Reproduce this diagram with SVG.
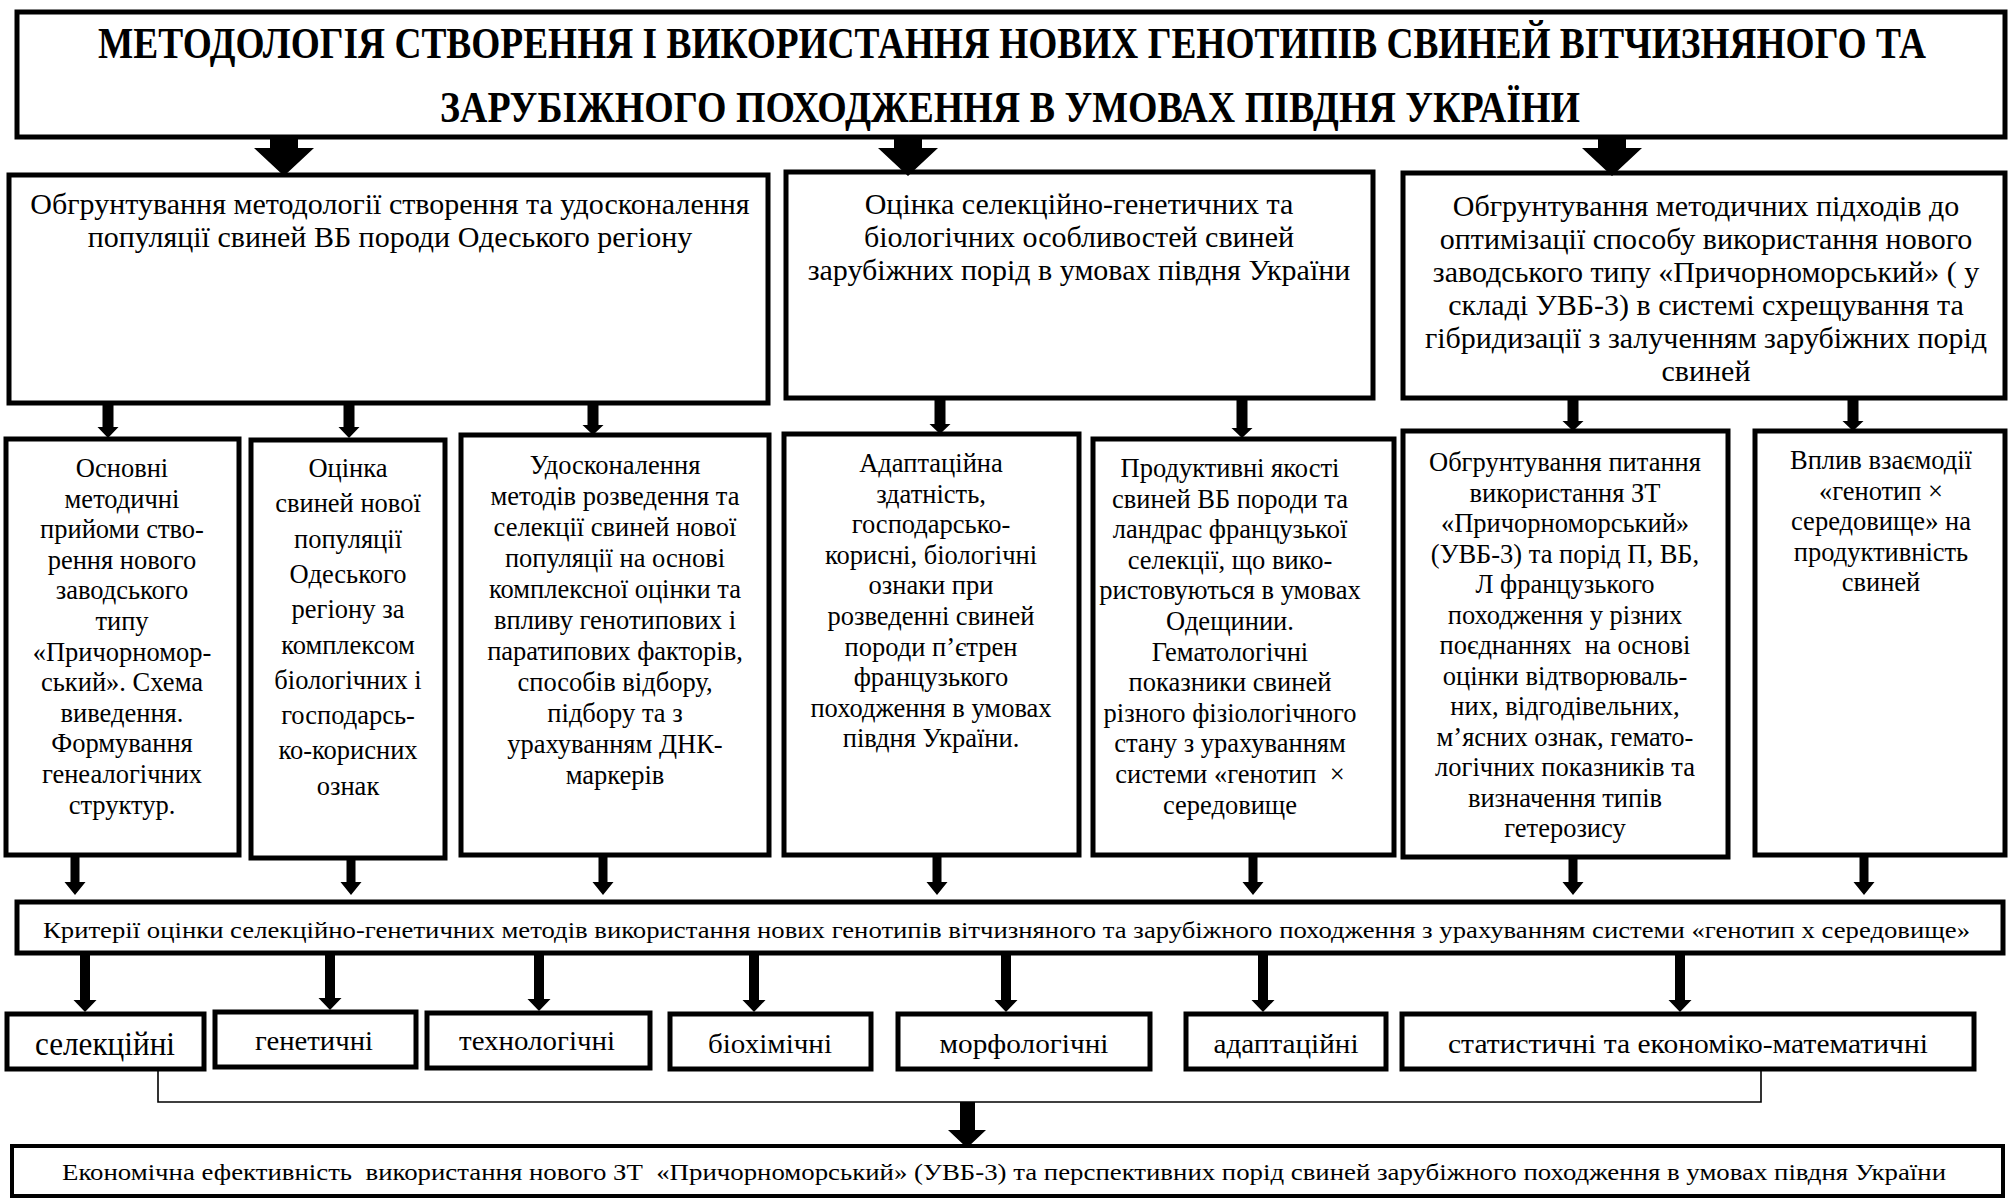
<svg xmlns="http://www.w3.org/2000/svg" width="2011" height="1199" viewBox="0 0 2011 1199">
<style>
.bg{fill:#fff}
.box{fill:#fff;stroke:#000;stroke-width:5}
.thin{stroke-width:4}
.t{font-family:"Liberation Serif","Times New Roman",serif;fill:#000;text-anchor:middle}
.ttl{font-size:37px;font-weight:bold}
.l2{font-size:30px}
.l3{font-size:26.5px}
.cat{font-size:27px}
.arr{fill:#000}
.ln{fill:none;stroke:#000;stroke-width:1.6}
</style>
<rect class="bg" x="0" y="0" width="2011" height="1199"/>

<g id="title">
<rect class="box" x="17" y="12" width="1988" height="125"/>
<text class="t ttl" transform="translate(1012 58) scale(1 1.2)" x="0" y="0" textLength="1828" lengthAdjust="spacingAndGlyphs">МЕТОДОЛОГІЯ СТВОРЕННЯ І ВИКОРИСТАННЯ НОВИХ ГЕНОТИПІВ СВИНЕЙ ВІТЧИЗНЯНОГО ТА</text>
<text class="t ttl" transform="translate(1010 122) scale(1 1.2)" x="0" y="0" textLength="1140" lengthAdjust="spacingAndGlyphs">ЗАРУБІЖНОГО ПОХОДЖЕННЯ В УМОВАХ ПІВДНЯ УКРАЇНИ</text>
</g>

<g id="box-a">
<rect class="box" x="9" y="175" width="759" height="228"/>
<text class="t l2"><tspan x="390" y="214">Обгрунтування методології створення та удосконалення</tspan><tspan x="390" y="247">популяції свиней ВБ породи Одеського регіону</tspan></text>
</g>

<g id="box-b">
<rect class="box" x="786" y="172" width="587" height="226"/>
<text class="t l2"><tspan x="1079" y="214">Оцінка селекційно-генетичних та</tspan><tspan x="1079" y="247">біологічних особливостей свиней</tspan><tspan x="1079" y="280">зарубіжних порід в умовах півдня України</tspan></text>
</g>

<g id="box-c">
<rect class="box" x="1403" y="173" width="602" height="225"/>
<text class="t l2"><tspan x="1706" y="216">Обгрунтування методичних підходів до</tspan><tspan x="1706" y="249">оптимізації способу використання нового</tspan><tspan x="1706" y="282">заводського типу «Причорноморський» ( у</tspan><tspan x="1706" y="315">складі УВБ-3) в системі схрещування та</tspan><tspan x="1706" y="348">гібридизації з залученням зарубіжних порід</tspan><tspan x="1706" y="381">свиней</tspan></text>
</g>

<g id="b1">
<rect class="box" x="6" y="439" width="233" height="416"/>
<text class="t l3"><tspan x="122" y="477">Основні</tspan><tspan x="122" y="507.6">методичні</tspan><tspan x="122" y="538.2">прийоми ство-</tspan><tspan x="122" y="568.8">рення нового</tspan><tspan x="122" y="599.4">заводського</tspan><tspan x="122" y="630">типу</tspan><tspan x="122" y="660.6">«Причорномор-</tspan><tspan x="122" y="691.2">ський». Схема</tspan><tspan x="122" y="721.8">виведення.</tspan><tspan x="122" y="752.4">Формування</tspan><tspan x="122" y="783">генеалогічних</tspan><tspan x="122" y="813.6">структур.</tspan></text>
</g>

<g id="b2">
<rect class="box" x="251" y="440" width="194" height="418"/>
<text class="t l3"><tspan x="348" y="477">Оцінка</tspan><tspan x="348" y="512.3">свиней нової</tspan><tspan x="348" y="547.6">популяції</tspan><tspan x="348" y="582.9">Одеського</tspan><tspan x="348" y="618.2">регіону за</tspan><tspan x="348" y="653.5">комплексом</tspan><tspan x="348" y="688.8">біологічних і</tspan><tspan x="348" y="724.1">господарсь-</tspan><tspan x="348" y="759.4">ко-корисних</tspan><tspan x="348" y="794.7">ознак</tspan></text>
</g>

<g id="b3">
<rect class="box" x="461" y="435" width="308" height="420"/>
<text class="t l3"><tspan x="615" y="474">Удосконалення</tspan><tspan x="615" y="505">методів розведення та</tspan><tspan x="615" y="536">селекції свиней нової</tspan><tspan x="615" y="567">популяції на основі</tspan><tspan x="615" y="598">комплексної оцінки та</tspan><tspan x="615" y="629">впливу генотипових і</tspan><tspan x="615" y="660">паратипових факторів,</tspan><tspan x="615" y="691">способів відбору,</tspan><tspan x="615" y="722">підбору та з</tspan><tspan x="615" y="753">урахуванням ДНК-</tspan><tspan x="615" y="784">маркерів</tspan></text>
</g>

<g id="b4">
<rect class="box" x="784" y="434" width="295" height="421"/>
<text class="t l3"><tspan x="931" y="472">Адаптаційна</tspan><tspan x="931" y="502.6">здатність,</tspan><tspan x="931" y="533.2">господарсько-</tspan><tspan x="931" y="563.8">корисні, біологічні</tspan><tspan x="931" y="594.4">ознаки при</tspan><tspan x="931" y="625">розведенні свиней</tspan><tspan x="931" y="655.6">породи п’єтрен</tspan><tspan x="931" y="686.2">французького</tspan><tspan x="931" y="716.8">походження в умовах</tspan><tspan x="931" y="747.4">півдня України.</tspan></text>
</g>

<g id="b5">
<rect class="box" x="1093" y="439" width="301" height="416"/>
<text class="t l3" xml:space="preserve"><tspan x="1230" y="477">Продуктивні якості</tspan><tspan x="1230" y="507.6">свиней ВБ породи та</tspan><tspan x="1230" y="538.2">ландрас французької</tspan><tspan x="1230" y="568.8">селекції, що вико-</tspan><tspan x="1230" y="599.4">ристовуються в умовах</tspan><tspan x="1230" y="630">Одещинии.</tspan><tspan x="1230" y="660.6">Гематологічні</tspan><tspan x="1230" y="691.2">показники свиней</tspan><tspan x="1230" y="721.8">різного фізіологічного</tspan><tspan x="1230" y="752.4">стану з урахуванням</tspan><tspan x="1230" y="783">системи «генотип  ×</tspan><tspan x="1230" y="813.6">середовище</tspan></text>
</g>

<g id="b6">
<rect class="box" x="1403" y="431" width="325" height="426"/>
<text class="t l3"><tspan x="1565" y="471">Обгрунтування питання</tspan><tspan x="1565" y="501.5">використання ЗТ</tspan><tspan x="1565" y="532">«Причорноморський»</tspan><tspan x="1565" y="562.5">(УВБ-3) та порід П, ВБ,</tspan><tspan x="1565" y="593">Л французького</tspan><tspan x="1565" y="623.5">походження у різних</tspan><tspan x="1565" y="654" xml:space="preserve">поєднаннях  на основі</tspan><tspan x="1565" y="684.5">оцінки відтворюваль-</tspan><tspan x="1565" y="715">них, відгодівельних,</tspan><tspan x="1565" y="745.5">м’ясних ознак, гемато-</tspan><tspan x="1565" y="776">логічних показників та</tspan><tspan x="1565" y="806.5">визначення типів</tspan><tspan x="1565" y="837">гетерозису</tspan></text>
</g>

<g id="b7">
<rect class="box" x="1755" y="431" width="250" height="424"/>
<text class="t l3"><tspan x="1881" y="469">Вплив взаємодії</tspan><tspan x="1881" y="499.5">«генотип ×</tspan><tspan x="1881" y="530">середовище» на</tspan><tspan x="1881" y="560.5">продуктивність</tspan><tspan x="1881" y="591">свиней</tspan></text>
</g>

<g id="criteria">
<rect class="box" x="17" y="902" width="1986" height="51"/>
<text class="t" style="font-size:24px;text-anchor:start" x="43" y="938" textLength="1927" lengthAdjust="spacingAndGlyphs">Критерії оцінки селекційно-генетичних методів використання нових генотипів вітчизняного та зарубіжного походження з урахуванням системи «генотип х середовище»</text>
</g>

<g id="c1">
<rect class="box" x="7" y="1014" width="197" height="55"/>
<text class="t" style="font-size:33px" x="105" y="1055" textLength="140" lengthAdjust="spacingAndGlyphs">селекційні</text>
</g>
<g id="c2">
<rect class="box" x="215" y="1012" width="201" height="55"/>
<text class="t cat" x="314" y="1050" textLength="118" lengthAdjust="spacingAndGlyphs">генетичні</text>
</g>
<g id="c3">
<rect class="box" x="427" y="1013" width="223" height="55"/>
<text class="t cat" x="537" y="1050" textLength="156" lengthAdjust="spacingAndGlyphs">технологічні</text>
</g>
<g id="c4">
<rect class="box" x="670" y="1014" width="201" height="55"/>
<text class="t cat" x="770" y="1053" textLength="124" lengthAdjust="spacingAndGlyphs">біохімічні</text>
</g>
<g id="c5">
<rect class="box" x="898" y="1014" width="252" height="55"/>
<text class="t cat" x="1024" y="1053" textLength="169" lengthAdjust="spacingAndGlyphs">морфологічні</text>
</g>
<g id="c6">
<rect class="box" x="1186" y="1014" width="200" height="55"/>
<text class="t cat" x="1286" y="1053" textLength="145" lengthAdjust="spacingAndGlyphs">адаптаційні</text>
</g>
<g id="c7">
<rect class="box" x="1402" y="1014" width="572" height="55"/>
<text class="t cat" x="1688" y="1053" textLength="480" lengthAdjust="spacingAndGlyphs">статистичні та економіко-математичні</text>
</g>

<g id="bottom">
<rect class="box thin" x="12" y="1146" width="1991" height="50"/>
<text class="t" style="font-size:23px;text-anchor:start" x="62" y="1180" textLength="1884" lengthAdjust="spacingAndGlyphs" xml:space="preserve">Економічна ефективність  використання нового ЗТ  «Причорноморський» (УВБ-3) та перспективних порід свиней зарубіжного походження в умовах півдня України</text>
</g>

<g id="connectors">
<path class="arr" d="M270 137H298V148H314L284 176L254 148H270Z"/>
<path class="arr" d="M894 137H922V148H938L908 176L878 148H894Z"/>
<path class="arr" d="M1598 137H1626V148H1642L1612 176L1582 148H1598Z"/>
<path class="arr" d="M102.5 402H113.5V427H118.5L108 438L97.5 427H102.5Z"/>
<path class="arr" d="M343.5 402H354.5V427H359.5L349 438L338.5 427H343.5Z"/>
<path class="arr" d="M587.5 402H598.5V425H603.5L593 435L582.5 425H587.5Z"/>
<path class="arr" d="M934.5 398H945.5V424H950.5L940 434L929.5 424H934.5Z"/>
<path class="arr" d="M1236.5 398H1247.5V428H1252.5L1242 438L1231.5 428H1236.5Z"/>
<path class="arr" d="M1567.5 398H1578.5V421H1583.5L1573 431L1562.5 421H1567.5Z"/>
<path class="arr" d="M1847.5 398H1858.5V421H1863.5L1853 431L1842.5 421H1847.5Z"/>
<path class="arr" d="M70.5 855H79.5V882H85.5L75 895L64.5 882H70.5Z"/>
<path class="arr" d="M346.5 858H355.5V882H361.5L351 895L340.5 882H346.5Z"/>
<path class="arr" d="M598.5 855H607.5V882H613.5L603 895L592.5 882H598.5Z"/>
<path class="arr" d="M932.5 855H941.5V882H947.5L937 895L926.5 882H932.5Z"/>
<path class="arr" d="M1248.5 855H1257.5V882H1263.5L1253 895L1242.5 882H1248.5Z"/>
<path class="arr" d="M1568.5 857H1577.5V882H1583.5L1573 895L1562.5 882H1568.5Z"/>
<path class="arr" d="M1859.5 855H1868.5V882H1874.5L1864 895L1853.5 882H1859.5Z"/>
<path class="arr" d="M80 953H90V1000H96.5L85 1012L73.5 1000H80Z"/>
<path class="arr" d="M325 953H335V998H341.5L330 1010L318.5 998H325Z"/>
<path class="arr" d="M534 953H544V999H550.5L539 1011L527.5 999H534Z"/>
<path class="arr" d="M749 953H759V1000H765.5L754 1012L742.5 1000H749Z"/>
<path class="arr" d="M1001 953H1011V1000H1017.5L1006 1012L994.5 1000H1001Z"/>
<path class="arr" d="M1258 953H1268V1000H1274.5L1263 1012L1251.5 1000H1258Z"/>
<path class="arr" d="M1675 953H1685V1000H1691.5L1680 1012L1668.5 1000H1675Z"/>
<polyline class="ln" points="158,1069 158,1102 1761,1102 1761,1069"/>
<path class="arr" d="M960 1102H975V1130H986L967 1148L948 1130H960Z"/>
</g>
</svg>
